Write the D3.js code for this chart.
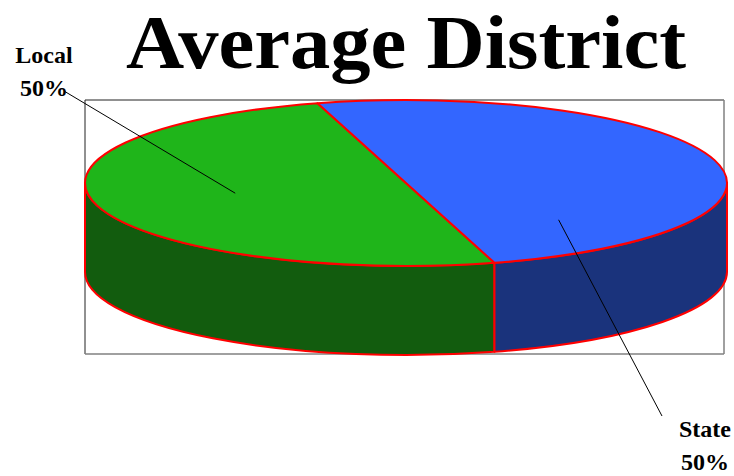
<!DOCTYPE html>
<html>
<head>
<meta charset="utf-8">
<script src="https://cdn.jsdelivr.net/npm/d3@7"></script>
<style>
  html, body { margin: 0; padding: 0; background: #fff; }
  svg { display: block; }
</style>
</head>
<body>
<svg id="chart" width="734" height="476"></svg>
<script>
// ---- data ----
const title = "Average District";
const categories = ["Local", "State"];
const values = [50, 50];
const percentLabels = ["50%", "50%"];
const topColors = ["#1fb51a", "#3366ff"];
const sideColors = ["#125c0e", "#1a337c"];

// ---- layout ----
const W = 734, H = 476;
const frame = { x0: 85, y0: 100, x1: 724, y1: 354 };
const cx = 406, cy = 183, rx = 321, ry = 83, depth = 89;
const startTheta = 74 * Math.PI / 180; // parametric start angle of first slice
// label layout: anchor inside slice (parametric angle deg, radius fraction), text position
const labelLayout = [
  { anchorDeg: 167, frac: 0.546, tx: 44, ty: 63, lx: 64, ly: 91 },
  { anchorDeg: 43, frac: 0.65, tx: 705, ty: 437, lx: 662, ly: 416 }
];

const svg = d3.select("#chart");

const pt = (t, f = 1, dz = 0) => [cx + rx * f * Math.cos(t), cy + ry * f * Math.sin(t) + dz];

const pie = d3.pie().sort(null).startAngle(0).endAngle(2 * Math.PI);
const arcs = pie(values).map((d, i) => ({
  i,
  s: startTheta + d.startAngle,
  e: startTheta + d.endAngle
}));

// plot frame
const fg = svg.append("g");
fg.append("line").attr("x1", frame.x0).attr("y1", frame.y0).attr("x2", frame.x1).attr("y2", frame.y0).attr("stroke", "#222").attr("stroke-width", 1);
fg.append("line").attr("x1", frame.x0).attr("y1", frame.y0).attr("x2", frame.x0).attr("y2", frame.y1).attr("stroke", "#222").attr("stroke-width", 1);
fg.append("line").attr("x1", frame.x1).attr("y1", frame.y0).attr("x2", frame.x1).attr("y2", frame.y1).attr("stroke", "#808080").attr("stroke-width", 1.5);
fg.append("line").attr("x1", frame.x0).attr("y1", frame.y1).attr("x2", frame.x1).attr("y2", frame.y1).attr("stroke", "#808080").attr("stroke-width", 1.5);

// side faces: visible part is parametric angle in [0, PI] (mod 2PI)
function visibleRanges(s, e) {
  const out = [];
  for (let k = -2; k <= 2; k++) {
    const a = Math.max(s, k * 2 * Math.PI);
    const b = Math.min(e, k * 2 * Math.PI + Math.PI);
    if (b > a + 1e-6) out.push([a, b]);
  }
  return out;
}

const sideG = svg.append("g");
arcs.forEach(a => {
  visibleRanges(a.s, a.e).forEach(([s, e]) => {
    const p1 = pt(s), p2 = pt(e), p3 = pt(e, 1, depth), p4 = pt(s, 1, depth);
    const large = (e - s) > Math.PI ? 1 : 0;
    const path = `M${p1[0]},${p1[1]} A${rx},${ry} 0 ${large} 1 ${p2[0]},${p2[1]} L${p3[0]},${p3[1]} A${rx},${ry} 0 ${large} 0 ${p4[0]},${p4[1]} Z`;
    sideG.append("path").attr("d", path)
      .attr("fill", sideColors[a.i]).attr("stroke", "#ff0000").attr("stroke-width", 2)
      .attr("stroke-linejoin", "round");
  });
});

const topG = svg.append("g");
arcs.forEach(a => {
  const p1 = pt(a.s), p2 = pt(a.e);
  const large = (a.e - a.s) > Math.PI ? 1 : 0;
  const path = `M${cx},${cy} L${p1[0]},${p1[1]} A${rx},${ry} 0 ${large} 1 ${p2[0]},${p2[1]} Z`;
  topG.append("path").attr("d", path)
    .attr("fill", topColors[a.i]).attr("stroke", "#ff0000").attr("stroke-width", 2)
    .attr("stroke-linejoin", "round");
});

// leader lines & labels
const lg = svg.append("g");
categories.forEach((c, i) => {
  const L = labelLayout[i];
  const anchor = pt(L.anchorDeg * Math.PI / 180, L.frac);
  lg.append("line").attr("x1", L.lx).attr("y1", L.ly).attr("x2", anchor[0]).attr("y2", anchor[1])
    .attr("stroke", "#000").attr("stroke-width", 1);
  const t = lg.append("text").attr("x", L.tx).attr("y", L.ty)
    .attr("text-anchor", "middle")
    .attr("font-family", "'Liberation Serif', 'Times New Roman', serif")
    .attr("font-weight", "bold").attr("font-size", 24).attr("fill", "#000");
  t.append("tspan").attr("x", L.tx).attr("dy", 0).text(c);
  t.append("tspan").attr("x", L.tx).attr("dy", 33).text(percentLabels[i]);
});

// title
svg.append("text").attr("x", 406).attr("y", 68)
  .attr("text-anchor", "middle")
  .attr("font-family", "'Liberation Serif', 'Times New Roman', serif")
  .attr("font-weight", "bold").attr("font-size", 76).attr("fill", "#000")
  .attr("textLength", 560).attr("lengthAdjust", "spacingAndGlyphs")
  .text(title);
</script>
</body>
</html>
